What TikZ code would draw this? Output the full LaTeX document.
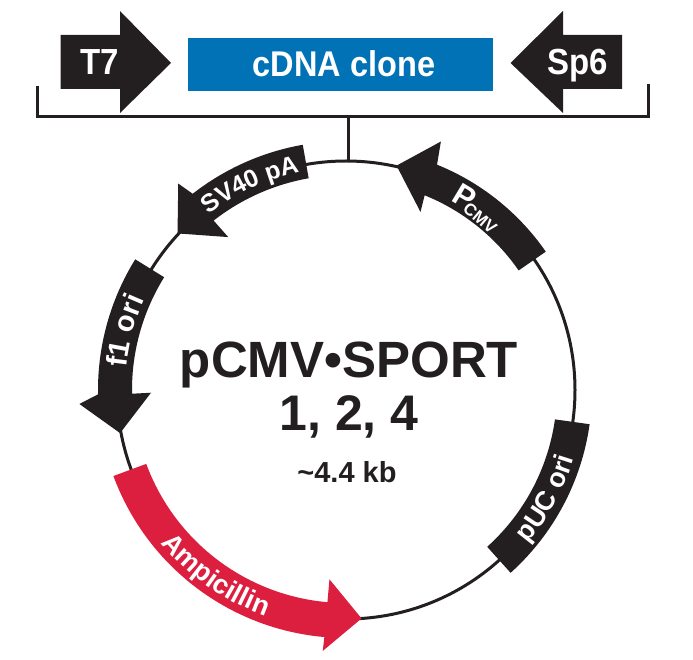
\documentclass[tikz,border=0pt]{standalone}
\usepackage{fontspec}
\setmainfont{Liberation Sans}
\usetikzlibrary{decorations.text}
\definecolor{ink}{HTML}{231F20}
\definecolor{cloneblue}{HTML}{0072B5}
\definecolor{ampred}{HTML}{DC1F3F}
\newcommand{\fs}[1]{\fontsize{#1}{#1}\selectfont\bfseries}
\tikzset{
  x=1pt,y=1pt,
  wire/.style={draw=ink,line width=3pt,line cap=butt,line join=miter},
  feature/.style={fill=ink,draw=none},
  boxlabel/.style={text=white,font=\fs{33},inner sep=0pt,anchor=base},
  title/.style={text=ink,inner sep=0pt,anchor=base},
  curved/.style n args={2}{decorate,decoration={text along path,text align={align=center},
     text={|\fs{#1}\color{white}|#2}}}
}
\begin{document}
\begin{tikzpicture}
\useasboundingbox (0,0) rectangle (693,659);
% top row
\path[feature] (60.5,624) -- (120,624) -- (120,648) -- (171,596) -- (120,546) -- (120,570) -- (60.5,570) -- cycle;
\path[feature] (622,624) -- (563,624) -- (563,648) -- (510.5,596) -- (563,546) -- (563,570) -- (622,570) -- cycle;
\node[boxlabel] (t7) at (100,584) {\scalebox{1}[1.1]{T7}};
\node[boxlabel] (sp6) at (578,584) {\scalebox{1}[1.1]{Sp6}};
\node[fill=cloneblue,minimum width=305pt,minimum height=53pt,inner sep=0pt,anchor=south west] (clone) at (188,568) {};
\node[boxlabel,font=\fs{32.5}] (clonetext) at (344,582) {\scalebox{1}[1.1]{cDNA clone}};
% bracket
\coordinate (bl) at (37.5,573);
\coordinate (br) at (648.5,575);
\coordinate (bs) at (348,542);
\coordinate (ct) at (348,499);
\draw[wire] (bl) |- (bs) -| (br);
\draw[wire] (bs) -- (ct);
\begin{scope}[shift={(346,269)}]
% plasmid
\draw[wire] (0,0) circle[radius=229pt];
% P CMV
\path[feature] (34.7:243pt) arc[start angle=34.7,end angle=68,radius=243pt] -- (69.1:266pt) -- (77.3:230pt) -- (67.3:193pt) -- (68:210pt) arc[start angle=68,end angle=34.7,radius=210pt] -- cycle;
\node[text=white,font=\fs{31},rotate=-31,inner sep=0pt] (p) at (58.5:227pt) {P};
\node[text=white,font=\fs{17},rotate=-40,inner sep=0pt] (cmv) at (52:218pt) {CMV};
% SV40 pA
\path[feature] (100:249pt) arc[start angle=100,end angle=128,radius=249pt] -- (129.1:266pt) -- (137.1:230pt) -- (127.6:193pt) -- (128:215pt) arc[start angle=128,end angle=100,radius=215pt] -- cycle;
\path[curved={25}{SV40 pA}] (145:223pt) arc[start angle=145,end angle=85,radius=223pt];
% f1 ori
\path[feature] (148.2:248pt) arc[start angle=148.2,end angle=181,radius=248pt] -- (183:267pt) -- (190.8:230pt) -- (180.8:195pt) -- (181:214pt) arc[start angle=181,end angle=148.2,radius=214pt] -- cycle;
\path[curved={29}{f1 ori}] (195:221pt) arc[start angle=195,end angle=135,radius=221pt];
% Ampicillin
\path[fill=ampred] (200.3:248pt) arc[start angle=200.3,end angle=265,radius=248pt] -- (264.9:262pt) -- (273.9:229pt) -- (265:190pt) -- (265:213pt) arc[start angle=265,end angle=200.3,radius=213pt] -- cycle;
\path[curved={27}{Ampicillin}] (205:240pt) arc[start angle=205,end angle=265,radius=240pt];
% pUC ori
\path[feature] (-48:246pt) arc[start angle=-48,end angle=-8,radius=246pt] -- (-8:211pt) arc[start angle=-8,end angle=-48,radius=211pt] -- cycle;
\path[curved={27}{pUC ori}] (-58.5:238pt) arc[start angle=-58.5,end angle=1.5,radius=238pt];
\end{scope}
% centre title
\node[title,font=\fs{51}] (name) at (349,281) {pCMV•SPORT};
\node[title,font=\fs{50}] (num) at (349,229) {1, 2, 4};
\node[title,font=\fs{29}] (size) at (347,177) {\char`\~4.4 kb};
\end{tikzpicture}
\end{document}
